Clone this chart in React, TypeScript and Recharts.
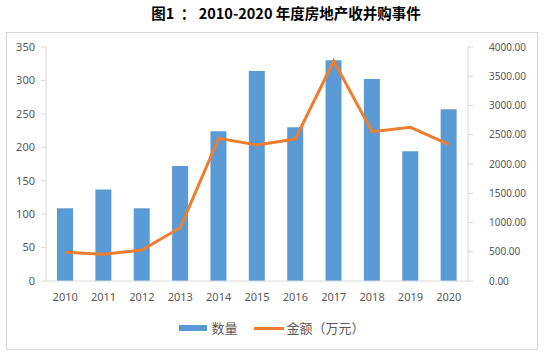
import React from "react";
import { ComposedChart, Bar, Line, XAxis, YAxis, Legend } from "recharts";

const years = ["2010", "2011", "2012", "2013", "2014", "2015", "2016", "2017", "2018", "2019", "2020"];
const counts = [109, 137, 109, 172, 224, 314, 230, 330, 302, 194, 257];
const amounts = [490, 456, 530, 911, 2439, 2325, 2427, 3760, 2553, 2627, 2336];
const leftTicks = [0, 50, 100, 150, 200, 250, 300, 350];
const rightTicks = [0, 500, 1000, 1500, 2000, 2500, 3000, 3500, 4000];

const data = years.map((y, i) => ({ year: y, count: counts[i], amount: amounts[i] }));

const FONT = "'Noto Sans', 'Noto Sans CJK SC', sans-serif";
const BLUE = "#5B9BD5";
const ORANGE = "#ED7D31";
const AXIS = "#d9d9d9";
const TEXT = "#595959";

const LegendContent = () => (
  <div style={{ display: "flex", justifyContent: "center", alignItems: "center", fontFamily: "'Noto Sans CJK SC', sans-serif", fontSize: 13, color: TEXT, lineHeight: "20px" }}>
    <div style={{ display: "flex", alignItems: "center", marginRight: 16 }}>
      <div style={{ width: 28, height: 6, background: BLUE, marginRight: 4 }} />
      <span>数量</span>
    </div>
    <div style={{ display: "flex", alignItems: "center" }}>
      <div style={{ width: 30, height: 3, background: ORANGE, marginRight: 3 }} />
      <span>金额（万元）</span>
    </div>
  </div>
);

export default function App() {
  return (
    <div style={{ position: "absolute", left: 0, top: 0, width: 544, height: 352, background: "#fff" }}>
      <div
        style={{
          position: "absolute",
          left: 0,
          top: 3,
          width: 572,
          textAlign: "center",
          fontFamily: "'Noto Sans CJK SC', sans-serif",
          fontWeight: 700,
          fontSize: 14.5,
          color: "#000",
          lineHeight: "20px",
          whiteSpace: "pre",
        }}
      >
        {"图1  ： 2010-2020 年度房地产收并购事件"}
      </div>
      <div style={{ position: "absolute", left: 6, top: 32, width: 530, height: 316, border: "1px solid #d9d9d9" }} />
      <div style={{ position: "absolute", left: 0, top: 0 }}>
        <ComposedChart width={544} height={352} data={data} margin={{ top: 47, right: 0, bottom: 21, left: 0 }} barSize={16}>
          <XAxis
            dataKey="year"
            tickLine={false}
            axisLine={{ stroke: AXIS }}
            tick={{ fill: TEXT, fontSize: 11, fontFamily: FONT }}
            tickSize={5}
            tickMargin={7}
            height={30}
          />
          <YAxis
            yAxisId="left"
            domain={[0, 350]}
            ticks={leftTicks}
            width={46}
            axisLine={{ stroke: AXIS }}
            tickLine={{ stroke: AXIS }}
            tickSize={5}
            tickMargin={6}
            tick={{ fill: TEXT, fontSize: 11, fontFamily: FONT }}
            interval={0}
          />
          <YAxis
            yAxisId="right"
            orientation="right"
            domain={[0, 4000]}
            ticks={rightTicks}
            width={76}
            axisLine={{ stroke: AXIS }}
            tickLine={{ stroke: AXIS }}
            tickSize={5}
            tickMargin={16}
            tick={{ fill: TEXT, fontSize: 10, fontFamily: FONT }}
            tickFormatter={(v: number) => v.toFixed(2)}
            interval={0}
          />
          <Bar yAxisId="left" dataKey="count" name="数量" fill={BLUE} isAnimationActive={false} />
          <Line
            yAxisId="right"
            dataKey="amount"
            name="金额（万元）"
            stroke={ORANGE}
            strokeWidth={3}
            dot={false}
            type="linear"
            isAnimationActive={false}
          />
          <Legend content={<LegendContent />} wrapperStyle={{ top: 318, left: 0, width: 544, height: 20 }} />
        </ComposedChart>
      </div>
    </div>
  );
}
